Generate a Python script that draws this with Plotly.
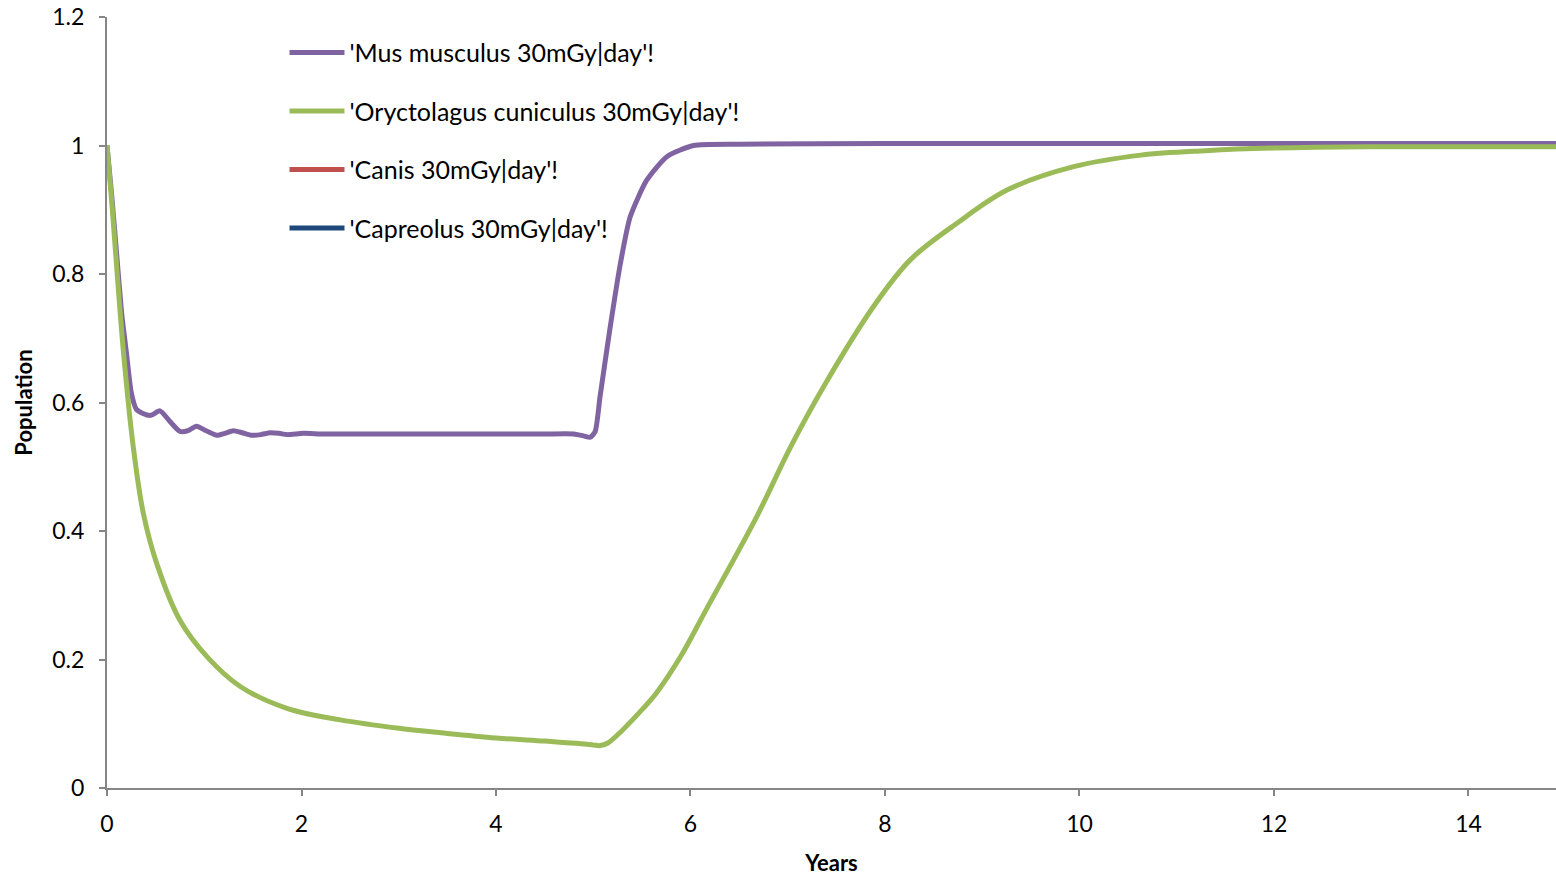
import plotly.graph_objects as go

# ---- data ----
mus_x = [0, 0.05, 0.1, 0.15, 0.2, 0.25, 0.3, 0.37, 0.45, 0.545, 0.65, 0.75, 0.83, 0.92, 1.02,
         1.13, 1.21, 1.30, 1.39, 1.49, 1.58, 1.68, 1.77, 1.85, 2.02, 2.2, 2.4, 2.7, 3.0, 3.5,
         4.0, 4.5, 4.8, 4.9, 4.97, 5.02, 5.07, 5.17, 5.28, 5.38, 5.55, 5.76, 6.03, 6.5, 8, 10,
         12, 14.9]
mus_y = [1.0, 0.92, 0.83, 0.74, 0.677, 0.615, 0.59, 0.583, 0.58, 0.587, 0.57, 0.555, 0.556,
         0.563, 0.556, 0.549, 0.552, 0.556, 0.553, 0.549, 0.55, 0.553, 0.552, 0.550, 0.552,
         0.551, 0.551, 0.551, 0.551, 0.551, 0.551, 0.551, 0.551, 0.548, 0.546, 0.555, 0.609,
         0.713, 0.817, 0.889, 0.946, 0.983, 1.0, 1.002, 1.003, 1.003, 1.003, 1.003]

ory_x = [0, 0.05, 0.1, 0.17, 0.27, 0.373, 0.51, 0.75, 1.03, 1.37, 1.85, 2.4, 3.0, 3.5, 4.0,
         4.5, 4.87, 5.0, 5.07, 5.15, 5.3, 5.52, 5.65, 5.9, 6.17, 6.68, 7.03, 7.37, 7.88, 8.26,
         8.74, 9.26, 9.94, 10.63, 11.3, 12.0, 13.0, 14.0, 14.9]
ory_y = [1.0, 0.91, 0.81, 0.677, 0.531, 0.428, 0.35, 0.261, 0.204, 0.158, 0.124, 0.106,
         0.093, 0.085, 0.078, 0.073, 0.069, 0.067, 0.066, 0.07, 0.09, 0.125, 0.148, 0.205,
         0.28, 0.422, 0.531, 0.625, 0.749, 0.822, 0.879, 0.931, 0.967, 0.985, 0.992, 0.996,
         0.998, 0.998, 0.998]

# no visible values for these two series in the reference (legend entries only)
canis_x, canis_y = [None], [None]
cap_x, cap_y = [None], [None]

names = ["'Mus musculus 30mGy|day'!", "'Oryctolagus cuniculus 30mGy|day'!",
         "'Canis 30mGy|day'!", "'Capreolus 30mGy|day'!"]
colors = ["#8064A2", "#9BBB59", "#C0504D", "#1F497D"]
smooth = [0.6, 1.0, 0.6, 0.6]
series = [(mus_x, mus_y), (ory_x, ory_y), (canis_x, canis_y), (cap_x, cap_y)]

x_ticks = [0, 2, 4, 6, 8, 10, 12, 14]
y_ticks = [0, 0.2, 0.4, 0.6, 0.8, 1, 1.2]
y_tick_text = ["0", "0.2", "0.4", "0.6", "0.8", "1", "1.2"]

FONT = "Lato, Open Sans, sans-serif"

fig = go.Figure()
for i, ((xs, ys), nm, col, sm) in enumerate(zip(series, names, colors, smooth)):
    fig.add_trace(go.Scatter(
        x=xs, y=ys, mode="lines", name=nm, legendgroup=f"g{i}",
        line=dict(color=col, width=5, shape="spline", smoothing=sm),
    ))

fig.update_layout(
    width=1556, height=878,
    margin=dict(l=107, r=0, t=17, b=90, autoexpand=False),
    paper_bgcolor="white", plot_bgcolor="white",
    font=dict(family=FONT, size=23, color="black"),
    showlegend=True,
    legend=dict(
        x=0.1225, y=0.9835, xanchor="left", yanchor="top",
        bgcolor="rgba(0,0,0,0)", borderwidth=0,
        font=dict(family=FONT, size=25, color="black"),
        tracegroupgap=23, itemwidth=55,
    ),
    xaxis=dict(
        range=[0, 14.9], tickmode="array", tickvals=x_ticks,
        showgrid=False, zeroline=False, automargin=False,
        showline=True, linecolor="#868686", linewidth=2,
        ticks="outside", ticklen=6, tickcolor="#868686", tickwidth=1.5,
        ticklabelstandoff=8, ticklabeloverflow="allow",
        tickfont=dict(family=FONT, size=23),
        title=dict(text="<b>Years</b>", font=dict(family=FONT, size=22), standoff=20),
    ),
    yaxis=dict(
        range=[0, 1.2], tickmode="array", tickvals=y_ticks, ticktext=y_tick_text,
        showgrid=False, zeroline=False, automargin=False,
        showline=True, linecolor="#868686", linewidth=2,
        ticks="outside", ticklen=6, tickcolor="#868686", tickwidth=1.5,
        ticklabelstandoff=10, ticklabeloverflow="allow",
        tickfont=dict(family=FONT, size=23),
        title=dict(text="<b>Population</b>", font=dict(family=FONT, size=22), standoff=14),
    ),
)

fig.write_html("out.html",
               config={"displayModeBar": False},
               post_script="document.body.style.margin='0px';document.body.style.overflow='hidden';")
